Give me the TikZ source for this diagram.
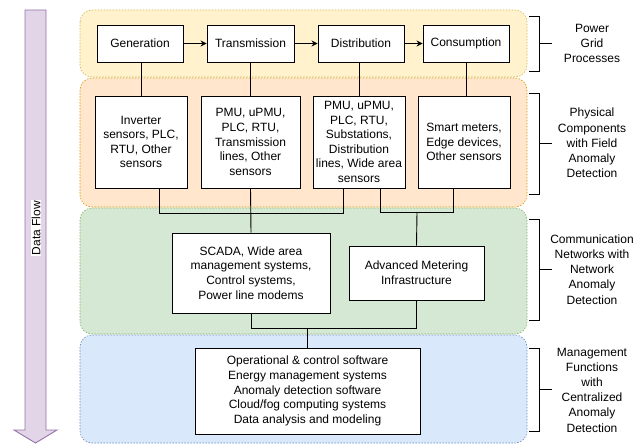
\documentclass[tikz,border=0pt]{standalone}
\usepackage{fontspec}
\setmainfont{Liberation Sans}
\usetikzlibrary{arrows.meta,calc}
\definecolor{yfill}{HTML}{FFF2CC}\definecolor{ydraw}{HTML}{D6B656}
\definecolor{ofill}{HTML}{FFE6CC}\definecolor{odraw}{HTML}{D79B00}
\definecolor{gfill}{HTML}{D5E8D4}\definecolor{gdraw}{HTML}{82B366}
\definecolor{bfill}{HTML}{DAE8FC}\definecolor{bdraw}{HTML}{6C8EBF}
\definecolor{pfill}{HTML}{E1D5E7}\definecolor{pdraw}{HTML}{9673A6}
\begin{document}
\begin{tikzpicture}[x=1pt,y=-1pt,
  font=\fontsize{12}{14.6}\selectfont,
  band/.style={rounded corners=12pt,line width=0.6pt,dash pattern=on 1.5pt off 1.5pt},
  box/.style={draw=black,fill=white,line width=0.9pt,align=center,inner sep=0pt},
  wire/.style={draw=black,line width=0.9pt},
  flow/.style={wire,-{Stealth[length=6pt,width=6pt]}},
  brk/.style={draw=black,line width=0.9pt},
  lbl/.style={align=center,font=\fontsize{12}{15.2}\selectfont}]
\useasboundingbox (0,0) rectangle (644,444);
% bands
\path[band,fill=yfill,draw=ydraw] (80,10) rectangle (527,77);
\path[band,fill=ofill,draw=odraw] (80,78) rectangle (527,207);
\path[band,fill=gfill,draw=gdraw] (80,208) rectangle (527,334);
\path[band,fill=bfill,draw=bdraw] (80,335) rectangle (527,443);
% data flow arrow
\path[fill=pfill,draw=pdraw,line width=0.9pt] (25,10) -- (46,10) -- (46,430) -- (57,430) -- (35.5,443) -- (14,430) -- (25,430) -- cycle;
\node[rotate=90,fill=white,inner sep=1pt] (df) at (36,228) {Data Flow};
% top row
\node[box,minimum width=86pt,minimum height=37pt] (gen) at (140,43.5) {Generation};
\node[box,minimum width=87pt,minimum height=37pt] (tra) at (250.5,43.5) {Transmission};
\node[box,minimum width=86pt,minimum height=37pt] (dis) at (361,43.5) {Distribution};
\node[box,minimum width=86pt,minimum height=37pt] (con) at (466,43.5) {Consumption};
\draw[flow] (gen) -- (tra);
\draw[flow] (tra) -- (dis);
\draw[flow] (dis) -- (con);
% second row
\node[box,minimum width=92pt,minimum height=92pt] (inv) at (141,142) {Inverter\\sensors, PLC,\\RTU, Other\\sensors};
\node[box,minimum width=99pt,minimum height=92pt] (tsen) at (250.5,142) {PMU, uPMU,\\PLC, RTU,\\Transmission\\lines, Other\\sensors};
\node[box,minimum width=92pt,minimum height=92pt] (dsen) at (359,142) {PMU, uPMU,\\PLC, RTU,\\Substations,\\Distribution\\lines, Wide area\\sensors};
\node[box,minimum width=92pt,minimum height=92pt] (smt) at (464,142) {Smart meters,\\Edge devices,\\Other sensors};
\draw[wire] (inv.north) -- (inv.north |- gen.south);
\draw[wire] (tsen.north) -- (tsen.north |- tra.south);
\draw[wire] (dsen.north) -- (dsen.north |- dis.south);
\draw[wire] (con.south) -- (con.south |- smt.north);
% communication
\node[box,minimum width=158pt,minimum height=80pt] (scada) at (251,273) {SCADA, Wide area\\management systems,\\Control systems,\\Power line modems};
\node[box,minimum width=135pt,minimum height=54pt] (ami) at (416.5,273) {Advanced Metering\\Infrastructure};
\coordinate (j1) at (251,213);
\coordinate (j2) at (417,212);
\coordinate (j3) at (307.5,328);
\draw[wire] ([xshift=18pt]inv.south) |- (j1);
\draw[wire] ([xshift=-16pt]dsen.south) |- (j1);
\draw[wire] (tsen.south) -- (scada.north);
\draw[wire] ([xshift=21pt]dsen.south) |- (j2);
\draw[wire] ([xshift=-11pt]smt.south) |- (j2);
\draw[wire] (j2) -- (ami.north);
% management
\node[box,minimum width=225pt,minimum height=86pt] (mgmt) at (307.5,391) {Operational \& control software\\Energy management systems\\Anomaly detection software\\Cloud/fog computing systems\\Data analysis and modeling};
\draw[wire] (scada.south) |- (j3);
\draw[wire] (ami.south) |- (j3);
\draw[wire] (j3) -- (mgmt.north);
% right labels and brackets
\draw[brk] (529,16) -- (539,16) -- (539,71) -- (529,71) (539,43.5) -- (552,43.5);
\draw[brk] (529,93) -- (539,93) -- (539,194) -- (529,194) (539,143.5) -- (552,143.5);
\draw[brk] (529,219) -- (539,219) -- (539,320) -- (529,320) (539,269.5) -- (552,269.5);
\draw[brk] (529,348) -- (539,348) -- (539,431) -- (529,431) (539,389.5) -- (552,389.5);
\node[lbl] (l1) at (592,43.5) {Power\\Grid\\Processes};
\node[lbl] (l2) at (592,143) {Physical\\Components\\with Field\\Anomaly\\Detection};
\node[lbl] (l3) at (592,269.5) {Communication\\Networks with\\Network\\Anomaly\\Detection};
\node[lbl] (l4) at (592,390) {Management\\Functions\\with\\Centralized\\Anomaly\\Detection};
\end{tikzpicture}
\end{document}
